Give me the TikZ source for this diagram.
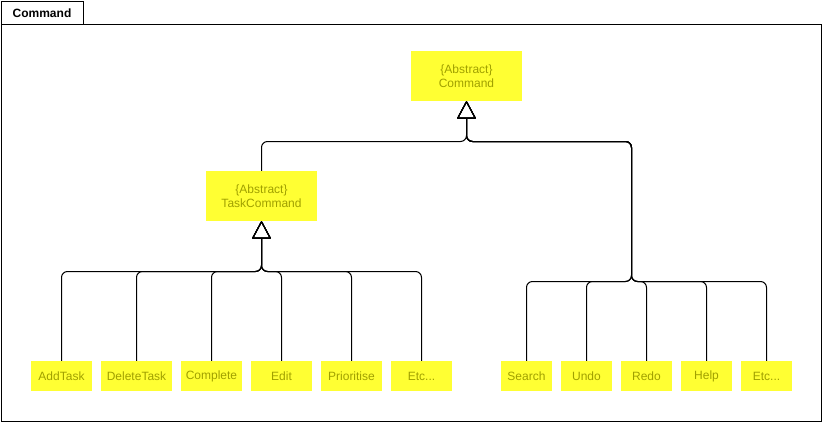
\documentclass[tikz,border=0pt]{standalone}
\usepackage{fontspec}
\setmainfont{Liberation Sans}
\usetikzlibrary{arrows.meta}
\definecolor{boxfill}{RGB}{255,255,51}
\definecolor{boxtext}{RGB}{160,160,0}
\begin{document}
\begin{tikzpicture}[x=1pt,y=-1pt,
  cls/.style={rectangle, fill=boxfill, draw=none, text=boxtext, align=center,
    inner sep=0pt, minimum height=30pt,
    font=\fontsize{12}{14}\selectfont},
  absbox/.style={cls, minimum height=50pt},
  edge/.style={draw=black, line width=1pt, rounded corners=6pt,
    -{Triangle[open, length=18pt, width=19pt, round=false]}},
  frame/.style={draw=black, line width=1pt}]
\useasboundingbox (0,0) rectangle (823,423);

% package frame with its name tab
\draw[frame] (1.5,24.5) rectangle (821.5,421.5);
\draw[frame] (1.5,1.5) rectangle (83.5,24.5);
\node[font=\bfseries\fontsize{12}{14}\selectfont] (tab) at (42,13) {Command};

% abstract classes
\node[absbox, minimum width=111pt] (command) at (466.5,76) {\{Abstract\}\\Command};
\node[absbox, minimum width=111pt] (taskcmd) at (261.5,196) {\{Abstract\}\\TaskCommand};

% task commands
\node[cls, minimum width=61pt] (addtask) at (61.5,376) {AddTask};
\node[cls, minimum width=71pt] (deletetask) at (136.5,376) {DeleteTask};
\node[cls, minimum width=61pt] (complete) at (211.5,376) {Complete};
\node[cls, minimum width=61pt] (edit) at (281.5,376) {Edit};
\node[cls, minimum width=61pt] (prioritise) at (351.5,376) {Prioritise};
\node[cls, minimum width=61pt] (etcleft) at (421.5,376) {Etc...};

% other commands
\node[cls, minimum width=51pt] (search) at (526.5,376) {Search};
\node[cls, minimum width=51pt] (undo) at (586.5,376) {Undo};
\node[cls, minimum width=51pt] (redo) at (646.5,376) {Redo};
\node[cls, minimum width=51pt] (help) at (706.5,376) {Help};
\node[cls, minimum width=51pt] (etcright) at (766.5,376) {Etc...};

% bus bends
\coordinate (cbus) at (466.5,141.5);
\coordinate (lbus) at (261.5,271.5);
\coordinate (rbus) at (631.5,281.5);

% generalisation edges
\draw[edge] (taskcmd.north) -- (taskcmd.north |- cbus) -- (cbus) -- (command.south);
\foreach \n in {addtask,deletetask,complete,edit,prioritise,etcleft}{
  \draw[edge] (\n.north) -- (\n.north |- lbus) -- (lbus) -- (taskcmd.south);
}
\foreach \n in {search,undo,redo,help,etcright}{
  \draw[edge] (\n.north) -- (\n.north |- rbus) -- (rbus) -- (rbus |- cbus) -- (cbus) -- (command.south);
}
\end{tikzpicture}
\end{document}
